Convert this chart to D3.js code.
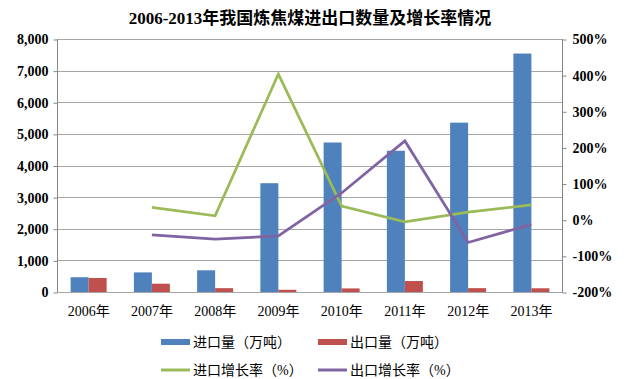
<!DOCTYPE html>
<html>
<head>
<meta charset="utf-8">
<script src="https://cdn.jsdelivr.net/npm/d3@7"></script>
<style>
  body { margin: 0; background: #fff; }
</style>
</head>
<body>
<div id="chart"></div>
<script>
// data
const years = ["2006年", "2007年", "2008年", "2009年", "2010年", "2011年", "2012年", "2013年"];
const importQty = [467, 620, 686, 3440, 4727, 4466, 5355, 7540];
const exportQty = [443, 262, 121, 70, 113, 347, 122, 118];
const importGrowth = [null, 34, 11, 403, 38, -6, 21, 41];
const exportGrowth = [null, -42, -54, -45, 74, 218, -63, -13];
const leftTicks = [0, 1000, 2000, 3000, 4000, 5000, 6000, 7000, 8000];
const rightTicks = [-200, -100, 0, 100, 200, 300, 400, 500];

const serif = "'Liberation Serif', 'Times New Roman', 'Noto Sans CJK SC', serif";

function drawChart() {
    const svg = d3.select("#chart")
        .append("svg")
        .attr("width", 624)
        .attr("height", 379)
        .style("font-family", serif);

    const left = 57, right = 563, top = 39, bottom = 292;

    svg.append("text")
        .attr("x", 310)
        .attr("y", 24)
        .attr("text-anchor", "middle")
        .style("font-family", serif)
        .style("font-size", "17px")
        .style("font-weight", "bold")
        .text("2006-2013年我国炼焦煤进出口数量及增长率情况");

    const x = d3.scaleBand()
        .domain(years)
        .range([left, right]);

    const xBar = d3.scaleBand()
        .domain(["imp", "exp"])
        .range([0, 36]);

    const y = d3.scaleLinear()
        .domain([0, 8000])
        .range([bottom, top]);

    const y2 = d3.scaleLinear()
        .domain([-200, 500])
        .range([bottom, top]);

    // gridlines
    svg.append("g")
        .selectAll("line")
        .data(leftTicks)
        .enter()
        .append("line")
        .attr("x1", left)
        .attr("x2", right)
        .attr("y1", d => Math.round(y(d)) + 0.5)
        .attr("y2", d => Math.round(y(d)) + 0.5)
        .attr("stroke", "#a6a6a6")
        .attr("stroke-width", 1);

    // left axis
    const yAxis = svg.append("g")
        .attr("transform", `translate(${left + 0.5},0.5)`)
        .call(d3.axisLeft(y).tickValues(leftTicks).tickSize(4).tickPadding(5).tickFormat(d3.format(",")));
    yAxis.attr("font-family", null);
    yAxis.selectAll("line, path").attr("stroke", "#868686");
    yAxis.select(".domain").attr("d", `M0,${top}V${bottom}`);
    yAxis.selectAll("text")
        .style("font-family", serif)
        .style("font-size", "14px")
        .style("font-weight", "bold")
        .attr("fill", "#000");

    // right axis
    const y2Axis = svg.append("g")
        .attr("transform", `translate(${right - 0.5},0.5)`)
        .call(d3.axisRight(y2).tickValues(rightTicks).tickSize(4).tickPadding(6).tickFormat(d => d + "%"));
    y2Axis.attr("font-family", null);
    y2Axis.selectAll("line, path").attr("stroke", "#868686");
    y2Axis.select(".domain").attr("d", `M0,${top}V${bottom}`);
    y2Axis.selectAll("text")
        .style("font-family", serif)
        .style("font-size", "14px")
        .style("font-weight", "bold")
        .attr("fill", "#000");

    // x axis labels
    svg.append("g")
        .selectAll("text")
        .data(years)
        .enter()
        .append("text")
        .attr("x", d => x(d) + x.bandwidth() / 2)
        .attr("y", 316)
        .attr("text-anchor", "middle")
        .style("font-family", serif)
        .style("font-size", "14px")
        .text(d => d);

    // bars
    const bars = svg.append("g");
    bars.selectAll(".imp")
        .data(years)
        .enter()
        .append("rect")
        .attr("class", "imp")
        .attr("x", d => x(d) + x.bandwidth() / 2 - 18 + xBar("imp"))
        .attr("y", (d, i) => y(importQty[i]))
        .attr("width", xBar.bandwidth())
        .attr("height", (d, i) => y(0) - y(importQty[i]))
        .attr("fill", "#4f81bd");
    bars.selectAll(".exp")
        .data(years)
        .enter()
        .append("rect")
        .attr("class", "exp")
        .attr("x", d => x(d) + x.bandwidth() / 2 - 18 + xBar("exp"))
        .attr("y", (d, i) => y(exportQty[i]))
        .attr("width", xBar.bandwidth())
        .attr("height", (d, i) => y(0) - y(exportQty[i]))
        .attr("fill", "#c0504d");

    // growth lines
    const line = d3.line()
        .defined(d => d.v !== null)
        .x(d => x(d.year) + x.bandwidth() / 2)
        .y(d => y2(d.v));

    svg.append("path")
        .datum(years.map((year, i) => ({ year, v: importGrowth[i] })))
        .attr("d", line)
        .attr("fill", "none")
        .attr("stroke", "#9bbb59")
        .attr("stroke-width", 2.75);

    svg.append("path")
        .datum(years.map((year, i) => ({ year, v: exportGrowth[i] })))
        .attr("d", line)
        .attr("fill", "none")
        .attr("stroke", "#8064a2")
        .attr("stroke-width", 2.75);

    // legend
    const legend = [
        { label: "进口量（万吨）", color: "#4f81bd", type: "rect", lx: 161, ly: 342 },
        { label: "出口量（万吨）", color: "#c0504d", type: "rect", lx: 318, ly: 342 },
        { label: "进口增长率（%）", color: "#9bbb59", type: "line", lx: 161, ly: 370 },
        { label: "出口增长率（%）", color: "#8064a2", type: "line", lx: 318, ly: 370 }
    ];
    const lg = svg.append("g").selectAll("g")
        .data(legend)
        .enter()
        .append("g")
        .attr("transform", d => `translate(${d.lx},${d.ly})`);
    lg.filter(d => d.type === "rect")
        .append("rect")
        .attr("x", 0)
        .attr("y", -3)
        .attr("width", 29)
        .attr("height", 6)
        .attr("fill", d => d.color);
    lg.filter(d => d.type === "line")
        .append("line")
        .attr("x1", 0)
        .attr("x2", 29)
        .attr("y1", 0)
        .attr("y2", 0)
        .attr("stroke", d => d.color)
        .attr("stroke-width", 3);
    lg.append("text")
        .attr("x", 32)
        .attr("y", 5)
        .style("font-family", serif)
        .style("font-size", "14px")
        .text(d => d.label);
}

drawChart();
</script>
</body>
</html>
